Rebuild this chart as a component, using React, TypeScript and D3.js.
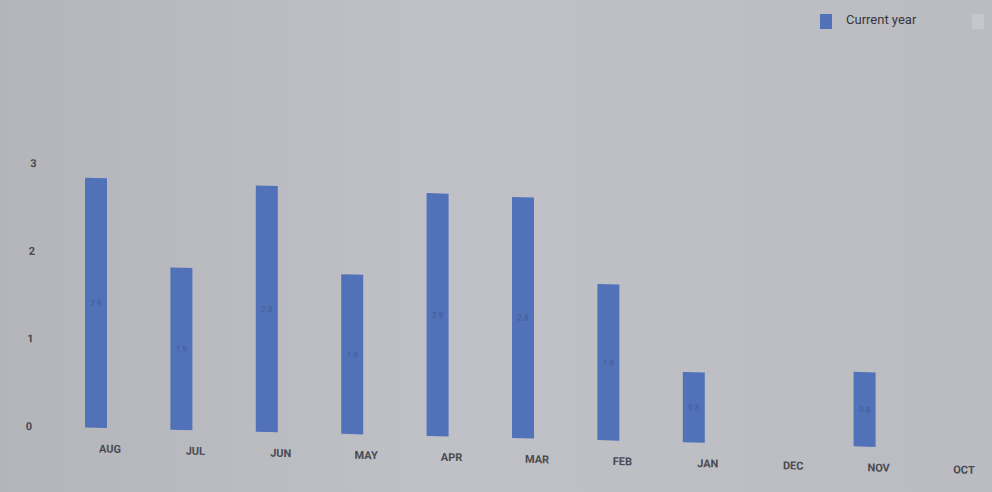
import React, { useEffect, useRef } from 'react';
import * as d3 from 'd3';

const months = ['AUG', 'JUL', 'JUN', 'MAY', 'APR', 'MAR', 'FEB', 'JAN', 'DEC', 'NOV', 'OCT'];
const currentYear = [2.85, 1.85, 2.81, 1.82, 2.77, 2.75, 1.78, 0.8, 0, 0.85, 0];
const yTicks = [0, 1, 2, 3];

const App: React.FC = () => {
  const svgRef = useRef<SVGSVGElement>(null);

  useEffect(() => {
    if (!svgRef.current) return;
    const svg = d3.select(svgRef.current);
    svg.selectAll('*').remove();

    const width = 992;
    const height = 492;

    const defs = svg.append('defs');
    const bg = defs.append('linearGradient').attr('id', 'bg').attr('x1', '0').attr('x2', '1').attr('y1', '0').attr('y2', '0');
    bg.append('stop').attr('offset', '0%').attr('stop-color', '#b4b5bb');
    bg.append('stop').attr('offset', '45%').attr('stop-color', '#c0c1c7');
    bg.append('stop').attr('offset', '100%').attr('stop-color', '#bbbcc2');

    svg.append('rect').attr('width', width).attr('height', height).attr('fill', 'url(#bg)');

    // photo of a screen: baseline drifts down to the right
    const g = svg.append('g').attr('transform', 'skewY(1.4)');

    const x = d3.scalePoint<string>().domain(months).range([96, 950]);
    const y = d3.scaleLinear().domain([0, 3]).range([425.5, 162.5]);
    const barW = 22;

    // y labels
    g.append('g')
      .selectAll('text')
      .data(yTicks)
      .join('text')
      .attr('x', d => 29 + d * 1.5)
      .attr('y', d => y(d))
      .attr('dy', '0.35em')
      .attr('text-anchor', 'middle')
      .style('font-family', 'Roboto, Arial, sans-serif')
      .style('font-size', '11px')
      .style('font-weight', 'bold')
      .style('fill', '#4a4a50')
      .text(d => d);

    // bars
    g.append('g')
      .selectAll('rect')
      .data(currentYear)
      .join('rect')
      .attr('x', (d, i) => (x(months[i]) as number) - barW / 2)
      .attr('y', d => y(d))
      .attr('width', barW)
      .attr('height', d => y(0) - y(d))
      .attr('fill', '#5172b8');

    // value labels in bars
    g.append('g')
      .selectAll('text')
      .data(currentYear.map((v, i) => ({ v, m: months[i] })).filter(d => d.v > 0))
      .join('text')
      .attr('x', d => x(d.m) as number)
      .attr('y', d => (y(d.v) + y(0)) / 2)
      .attr('dy', '0.35em')
      .attr('text-anchor', 'middle')
      .style('font-family', 'Roboto, Arial, sans-serif')
      .style('font-size', '8px')
      .style('fill', '#33467a')
      .style('opacity', 0.55)
      .text(d => d3.format('.1f')(d.v));

    // x labels
    g.append('g')
      .selectAll('text')
      .data(months)
      .join('text')
      .attr('x', d => (x(d) as number) + 14)
      .attr('y', 450)
      .attr('text-anchor', 'middle')
      .style('font-family', 'Roboto, Arial, sans-serif')
      .style('font-size', '11px')
      .style('font-weight', 'bold')
      .style('fill', '#4a4a50')
      .text(d => d);

    // legend
    const lg = svg.append('g').attr('transform', 'translate(820, 14)');
    lg.append('rect').attr('width', 12).attr('height', 15).attr('fill', '#5172b8');
    lg.append('text')
      .attr('x', 26)
      .attr('y', 10)
      .style('font-family', 'Roboto, Arial, sans-serif')
      .style('font-size', '13px')
      .style('fill', '#36363c')
      .text('Current year');
    lg.append('rect').attr('x', 152).attr('y', 0).attr('width', 12).attr('height', 15).attr('fill', '#c6c7cc');
  }, []);

  return (
    <svg
      ref={svgRef}
      width={992}
      height={492}
      style={{ position: 'fixed', top: 0, left: 0, display: 'block' }}
    />
  );
};

export default App;
